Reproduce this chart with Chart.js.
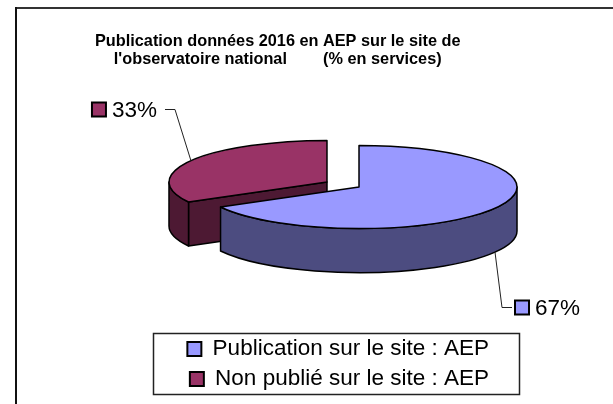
<!DOCTYPE html>
<html>
<head>
<meta charset="utf-8">
<script src="https://cdn.jsdelivr.net/npm/chart.js@4.4.1/dist/chart.umd.min.js"></script>
<style>
    html, body { margin: 0; padding: 0; background: #fff; }
    canvas { display: block; }
</style>
</head>
<body>
<canvas id="chart" width="613" height="404"></canvas>
<script>
/* globals Chart */

const FONT = '"Liberation Sans", Arial, sans-serif';

const categories = ['Publication sur le site : AEP', 'Non publié sur le site : AEP'];
const shares = [67, 33];
const shareLabels = ['67%', '33%'];
const titleLines = [
    'Publication données 2016 en AEP sur le site de',
    "l'observatoire national        (% en services)"
];

const topColors = ['#9999ff', '#993366'];
const sideColors = ['#4c4c80', '#4d1933'];

// how the flat pie gets tilted into a 3d disc
const view = { cx: 343, cy: 184.5, rx: 158, tilt: 0.263, depth: 44, explode: 18.6 };
// leader line elbows, relative to the anchor on the rim
const leaders = [{ dx: 7, dy: 55 }, { dx: -16, dy: -52 }];

function geom(arc){
    const m = (arc.startAngle + arc.endAngle) / 2;
    return {
        m: m,
        cx: view.cx + Math.cos(m) * view.explode,
        cy: view.cy + Math.sin(m) * view.explode * view.tilt,
        rx: view.rx,
        ry: view.rx * view.tilt,
        s: view.rx / arc.outerRadius
    };
}

function rim(g, a, dz){
    return [g.cx + g.rx * Math.cos(a), g.cy + g.ry * Math.sin(a) + dz];
}

const frame = {
    id: 'frame',
    beforeDraw(chart){
        const ctx = chart.ctx;
        ctx.save();
        ctx.fillStyle = '#fff';
        ctx.fillRect(0, 0, chart.width, chart.height);
        ctx.lineWidth = 2;
        ctx.strokeStyle = '#333';
        ctx.beginPath();
        ctx.moveTo(15, 8);
        ctx.lineTo(chart.width, 8);
        ctx.stroke();
        ctx.strokeStyle = '#111';
        ctx.beginPath();
        ctx.moveTo(16, 7);
        ctx.lineTo(16, chart.height);
        ctx.stroke();
        ctx.restore();
    }
};

const pie3d = {
    id: 'pie3d',
    beforeDatasetsDraw(chart){
        const ctx = chart.ctx;
        const arcs = chart.getDatasetMeta(0).data;
        const D = view.depth;
        const order = arcs.map((a, i) => i)
            .sort((i, j) => Math.sin(geom(arcs[i]).m) - Math.sin(geom(arcs[j]).m));

        ctx.save();
        ctx.lineWidth = 1.5;
        ctx.strokeStyle = '#000';
        ctx.lineJoin = 'round';

        order.forEach(i => {
            const arc = arcs[i];
            const g = geom(arc);
            const a1 = arc.startAngle, a2 = arc.endAngle;
            ctx.fillStyle = sideColors[i];

            // cut faces turned towards the viewer
            [[a1, Math.cos(a1) < -0.01], [a2, Math.cos(a2) > 0.01]].forEach(([a, show]) => {
                if (!show) return;
                const p = rim(g, a, 0);
                ctx.beginPath();
                ctx.moveTo(g.cx, g.cy);
                ctx.lineTo(p[0], p[1]);
                ctx.lineTo(p[0], p[1] + D);
                ctx.lineTo(g.cx, g.cy + D);
                ctx.closePath();
                ctx.fill();
                ctx.stroke();
            });

            // outer wall, front half only
            [-1, 0, 1].forEach(k => {
                const b1 = Math.max(a1, 2 * Math.PI * k);
                const b2 = Math.min(a2, 2 * Math.PI * k + Math.PI);
                if (b2 <= b1) return;
                ctx.beginPath();
                ctx.ellipse(g.cx, g.cy, g.rx, g.ry, 0, b1, b2);
                ctx.ellipse(g.cx, g.cy + D, g.rx, g.ry, 0, b2, b1, true);
                ctx.closePath();
                ctx.fill();
                ctx.stroke();
            });

            // top face: the library's arc, squashed
            ctx.save();
            ctx.translate(g.cx, g.cy);
            ctx.scale(g.s, g.s * view.tilt);
            ctx.translate(-arc.x, -arc.y);
            arc.draw(ctx);
            ctx.beginPath();
            ctx.moveTo(arc.x, arc.y);
            ctx.arc(arc.x, arc.y, arc.outerRadius, a1, a2);
            ctx.closePath();
            ctx.restore();
            ctx.stroke();
        });
        ctx.restore();
        return false;
    },
    afterDraw(chart){
        const ctx = chart.ctx;
        const arcs = chart.getDatasetMeta(0).data;
        ctx.save();
        ctx.font = '22.5px ' + FONT;
        ctx.textBaseline = 'middle';

        arcs.forEach((arc, i) => {
            const g = geom(arc);
            const front = Math.sin(g.m) > 0;
            const side = Math.cos(g.m) > 0 ? 1 : -1;
            const p = rim(g, g.m, front ? view.depth : 0);
            const ex = p[0] + leaders[i].dx, ey = Math.round(p[1] + leaders[i].dy) + 0.5;

            ctx.strokeStyle = '#222';
            ctx.lineWidth = 1;
            ctx.beginPath();
            ctx.moveTo(p[0], p[1]);
            ctx.lineTo(ex, ey);
            ctx.lineTo(ex + side * 10, ey);
            ctx.stroke();

            const tw = ctx.measureText(shareLabels[i]).width;
            let bx, tx;
            if (side > 0){
                bx = ex + 13;
                tx = bx + 20;
            } else {
                tx = ex - 18 - tw;
                bx = tx - 20;
            }
            ctx.fillStyle = topColors[i];
            ctx.fillRect(bx, ey - 7, 14, 14);
            ctx.strokeStyle = '#000';
            ctx.lineWidth = 2;
            ctx.strokeRect(bx, ey - 7, 14, 14);
            ctx.fillStyle = '#000';
            ctx.textAlign = 'left';
            ctx.fillText(shareLabels[i], tx, ey + 1);
        });

        // box round the legend
        const lg = chart.legend;
        const hb = lg.legendHitBoxes;
        const left = Math.min(...hb.map(h => h.left)) - 34;
        const right = Math.max(...hb.map(h => h.left + h.width)) + 30;
        ctx.strokeStyle = '#222';
        ctx.lineWidth = 1.5;
        ctx.strokeRect(Math.round(left) + 0.5, Math.round(lg.top + 3) + 0.5, Math.round(right - left), Math.round(lg.bottom - lg.top - 9));
        ctx.restore();
    }
};

const baseLabels = (Chart.overrides.pie || Chart.overrides.doughnut).plugins.legend.labels.generateLabels;

new Chart(document.getElementById('chart'), {
    type: 'pie',
    data: {
        labels: categories,
        datasets: [{
            data: shares,
            backgroundColor: topColors,
            borderWidth: 0
        }]
    },
    options: {
        responsive: false,
        animation: false,
        events: [],
        layout: {
            padding: { left: 59, right: 116.5, top: 8, bottom: 3.75 }
        },
        plugins: {
            title: {
                display: true,
                text: titleLines,
                color: '#000',
                font: { family: FONT, size: 16.3, weight: 'bold', lineHeight: 1.08 },
                padding: { top: 25, bottom: 10 }
            },
            legend: {
                position: 'bottom',
                align: 'end',
                labels: {
                    color: '#000',
                    font: { family: FONT, size: 22.5 },
                    boxWidth: 14,
                    boxHeight: 14,
                    padding: 7.5,
                    generateLabels: function(chart){
                        return baseLabels(chart).map(item => Object.assign(item, { lineWidth: 2, strokeStyle: '#000' }));
                    }
                }
            },
            tooltip: { enabled: false }
        }
    },
    plugins: [frame, pie3d]
});
</script>
</body>
</html>
